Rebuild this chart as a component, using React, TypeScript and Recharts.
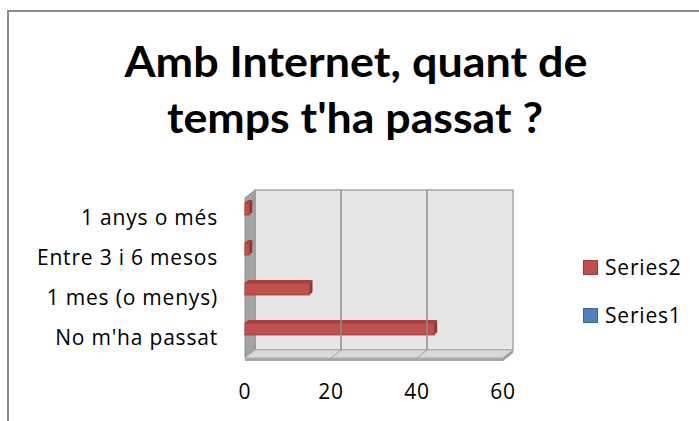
import { BarChart, Bar, XAxis, YAxis, Legend, ReferenceArea, ReferenceLine } from "recharts";

const categories = ["1 anys o més", "Entre 3 i 6 mesos", "1 mes (o menys)", "No m'ha passat"];
const series2 = [1, 1, 15, 44];
const series1 = [0, 0, 0, 0];
const xTicks = [0, 20, 40, 60];
const titleLines = ["Amb Internet, quant de", "temps t'ha passat ?"];
const legendOrder = ["Series2", "Series1"];

const TITLE_FONT = "Lato, 'Open Sans', sans-serif";
const FONT = "'Open Sans', Lato, sans-serif";
const DX = 10;
const DY = 8;

const data = categories.map((c, i) => ({ name: c, Series2: series2[i], Series1: series1[i] }));

const tickStyle = { fontFamily: FONT, fontSize: 21, fill: "#000", letterSpacing: 0.8 };

function Wall(p: any) {
  const { x, y, width: w, height: h } = p;
  return (
    <g>
      <rect x={x + DX} y={y - DY} width={w} height={h} fill="#e6e6e6" stroke="#a6a6a6" strokeWidth={1.5} />
      <polygon
        points={`${x},${y} ${x + DX},${y - DY} ${x + DX},${y + h - DY} ${x},${y + h}`}
        fill="#a3a3a3"
        stroke="#8c8c8c"
      />
      <polygon
        points={`${x},${y + h} ${x + DX},${y + h - DY} ${x + w + DX},${y + h - DY} ${x + w},${y + h}`}
        fill="#d9d9d9"
        stroke="#b0b0b0"
      />
      <rect x={x} y={y + h} width={w} height={3} fill="#a6a6a6" />
      <polygon
        points={`${x + w},${y + h} ${x + w + DX},${y + h - DY} ${x + w + DX},${y + h - DY + 3} ${x + w},${y + h + 3}`}
        fill="#9a9a9a"
      />
    </g>
  );
}

function GridLine(p: any) {
  const { x1 } = p;
  const top = Math.min(p.y1, p.y2);
  const bot = Math.max(p.y1, p.y2);
  return (
    <g>
      <line x1={x1 + DX} y1={top - DY} x2={x1 + DX} y2={bot - DY} stroke="#8c8c8c" strokeWidth={1.5} />
      <line x1={x1 + DX} y1={bot - DY} x2={x1} y2={bot} stroke="#9a9a9a" strokeWidth={1} />
    </g>
  );
}

function make3DBar(front: string, top: string, side: string, edge: string) {
  return (p: any) => {
    const { x, y, width, height } = p;
    if (!width || width <= 0.5) return null;
    const d = 3;
    return (
      <g>
        <polygon
          points={`${x},${y} ${x + d},${y - d} ${x + width + d},${y - d} ${x + width},${y}`}
          fill={top}
        />
        <polygon
          points={`${x + width},${y} ${x + width + d},${y - d} ${x + width + d},${y + height - d} ${x + width},${y + height}`}
          fill={side}
        />
        <rect x={x} y={y} width={width} height={height} fill={front} stroke={edge} strokeWidth={0.8} />
      </g>
    );
  };
}

const Bar2Shape = make3DBar("#c0504d", "#a8403d", "#8e3431", "#a23d3a");
const Bar1Shape = make3DBar("#4f81bd", "#3f6fa8", "#345d8f", "#3a6aa3");

const COLORS: Record<string, { fill: string; stroke: string }> = {
  Series2: { fill: "#c0504d", stroke: "#9c3b38" },
  Series1: { fill: "#4f81bd", stroke: "#3a679c" },
};

function LegendContent() {
  return (
    <div style={{ fontFamily: FONT, fontSize: 21, letterSpacing: 0.8, color: "#000" }}>
      {legendOrder.map((name) => (
        <div key={name} style={{ display: "flex", alignItems: "center", height: 24, marginBottom: 24 }}>
          <span
            style={{
              display: "inline-block",
              width: 13,
              height: 13,
              background: COLORS[name].fill,
              border: `1px solid ${COLORS[name].stroke}`,
              marginRight: 7,
            }}
          />
          <span>{name}</span>
        </div>
      ))}
    </div>
  );
}

export default function App() {
  return (
    <div style={{ position: "absolute", left: 0, top: 0, width: 699, height: 421, overflow: "hidden", background: "#fff" }}>
      <div
        style={{
          position: "absolute",
          left: 7,
          top: 10,
          width: 740,
          height: 460,
          border: "2px solid #8a8a8a",
          boxSizing: "border-box",
        }}
      />
      <svg width={699} height={150} style={{ position: "absolute", left: 0, top: 0 }}>
        <text x={356} y={77} textAnchor="middle" fontFamily={TITLE_FONT} fontWeight={700} fontSize={42} textLength={463} lengthAdjust="spacingAndGlyphs">
          {titleLines[0]}
        </text>
        <text x={355} y={133} textAnchor="middle" fontFamily={TITLE_FONT} fontWeight={700} fontSize={42} textLength={376} lengthAdjust="spacingAndGlyphs">
          {titleLines[1]}
        </text>
      </svg>
      <div style={{ position: "absolute", left: 0, top: 0 }}>
        <BarChart
          width={699}
          height={421}
          data={data}
          layout="vertical"
          margin={{ top: 198, right: 86, bottom: 13, left: 45 }}
          barSize={12}
          barGap={6}
        >
          <XAxis
            type="number"
            domain={[0, 60]}
            ticks={xTicks}
            axisLine={false}
            tickLine={false}
            tickMargin={20}
            height={50}
            tick={tickStyle}
          />
          <YAxis
            type="category"
            dataKey="name"
            width={200}
            axisLine={false}
            tickLine={false}
            tickMargin={21}
            tick={tickStyle}
          />
          <ReferenceArea x1={0} x2={60} ifOverflow="visible" shape={Wall} />
          <ReferenceLine x={20} ifOverflow="visible" shape={GridLine} />
          <ReferenceLine x={40} ifOverflow="visible" shape={GridLine} />
          <Legend
            layout="vertical"
            align="right"
            verticalAlign="top"
            content={LegendContent}
            wrapperStyle={{ left: 583, top: 255, width: 110 }}
          />
          <Bar dataKey="Series2" fill="#c0504d" shape={Bar2Shape} isAnimationActive={false} />
          <Bar dataKey="Series1" fill="#4f81bd" shape={Bar1Shape} isAnimationActive={false} />
        </BarChart>
      </div>
    </div>
  );
}
